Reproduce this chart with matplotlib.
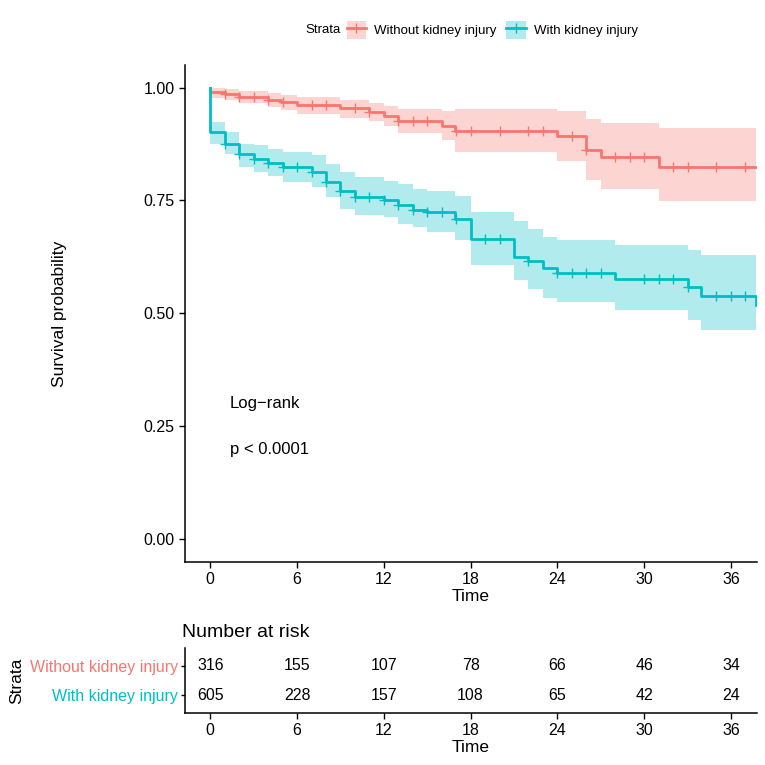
import numpy as np
import matplotlib.pyplot as plt
from matplotlib.patches import Patch
from matplotlib.lines import Line2D

plt.rcParams['font.family'] = ['Liberation Sans', 'DejaVu Sans']

# Kaplan-Meier steps (months, survival, 95% CI)
t_no = [0, 0, 1, 2, 4, 4.9, 6, 9, 11, 12, 13, 16, 16.9, 24, 26, 27, 31]
s_no = [1.0, .991, .985, .979, .972, .967, .961, .954, .946, .937, .926, .915, .904, .892, .862, .846, .825]
up_no = [1.0, 1.0, .997, .993, .988, .984, .979, .973, .966, .959, .952, .948, .952, .948, .931, .921, .910]
lo_no = [1.0, .977, .973, .965, .957, .950, .942, .933, .925, .915, .900, .885, .857, .837, .796, .776, .748]
cens_no = [1, 2, 3, 4, 5, 7, 8, 10, 11, 13, 14, 15, 17, 18, 20, 22, 23, 25, 26, 28, 29, 30, 32, 33, 35, 37]

t_aki = [0, 0, 1, 2, 3, 4, 5, 7, 8, 9, 10, 12, 13, 14, 15, 16.9, 18, 21, 22, 23, 24, 28, 33, 33.9, 37.7]
s_aki = [1.0, .901, .874, .853, .842, .833, .824, .814, .792, .771, .757, .750, .739, .728, .725, .709,
         .665, .626, .617, .601, .590, .577, .558, .539, .518]
up_aki = [1.0, .923, .901, .875, .872, .864, .857, .850, .831, .813, .802, .794, .787, .776, .772, .759,
          .724, .705, .688, .669, .662, .651, .640, .629, .629]
lo_aki = [1.0, .875, .853, .824, .813, .805, .791, .779, .757, .732, .717, .713, .698, .691, .680, .662,
          .608, .575, .554, .535, .525, .508, .485, .463, .463]
cens_aki = [1, 2, 3, 4, 5, 6, 7, 8, 9, 10, 11, 12, 13, 14, 15, 16, 17, 19, 20, 22, 24, 25, 26, 27,
            30, 31, 32, 33, 35, 36, 37]

t_end = 37.75
groups = ['Without kidney injury', 'With kidney injury']
colors = ['#F8766D', '#00BFC4']

risk_times = [0, 6, 12, 18, 24, 30, 36]
risk_no = [316, 155, 107, 78, 66, 46, 34]
risk_aki = [605, 228, 157, 108, 65, 42, 24]

fig = plt.figure(figsize=(7.65, 7.65), dpi=100)
ax = fig.add_axes([0.2418, 0.2654, 0.7477, 0.6497])

series = [(t_no, s_no, up_no, lo_no, cens_no), (t_aki, s_aki, up_aki, lo_aki, cens_aki)]
for (t, s, up, lo, cens), col, name in zip(series, colors, groups):
    tt = np.append(t, t_end)
    ss = np.append(s, s[-1])
    ax.fill_between(tt, np.append(lo, lo[-1]), np.append(up, up[-1]), step='post',
                    color=col, alpha=0.3, linewidth=0)
    ax.step(tt, ss, where='post', color=col, linewidth=2.0)
    idx = np.searchsorted(t, cens, side='right') - 1
    ax.plot(cens, np.array(s)[idx], linestyle='none', marker='+', markersize=7,
            markeredgewidth=1.0, color=col)

ax.set_xlim(-1.75, 37.8)
ax.set_ylim(-0.05, 1.05)
ax.set_xticks(risk_times)
ax.set_yticks([0, 0.25, 0.5, 0.75, 1.0])
ax.set_yticklabels(['0.00', '0.25', '0.50', '0.75', '1.00'])
for sp in ['top', 'right']:
    ax.spines[sp].set_visible(False)
for sp in ['left', 'bottom']:
    ax.spines[sp].set_linewidth(1.1)
ax.tick_params(labelsize=11.5, colors='black', length=4, width=1.0)
ax.set_xlabel('Time', fontsize=12.5, labelpad=1)
ax.set_ylabel('Survival probability', fontsize=12.5, labelpad=55)
ax.text(1.35, 0.30, 'Log\u2212rank', fontsize=12, va='center')
ax.text(1.35, 0.20, 'p < 0.0001', fontsize=12, va='center')

# legend on top, title inline on the left
handles = [(Patch(facecolor=c, alpha=0.3, edgecolor='none'),
            Line2D([], [], color=c, lw=2, marker='+', markersize=7, mew=1)) for c in colors]
fig.legend(handles, groups, loc='center left', bbox_to_anchor=(0.453, 0.961), ncol=2, frameon=False,
           fontsize=9.5, handlelength=1.5, handleheight=1.7, handletextpad=0.6, columnspacing=0.7,
           borderpad=0, borderaxespad=0)
fig.text(0.399, 0.961, 'Strata', fontsize=9.5, va='center', ha='left')

# number at risk table
tab = fig.add_axes([0.2418, 0.068, 0.7477, 0.085])
tab.set_xlim(-1.75, 37.8)
tab.set_ylim(2.6, 0.4)
for i, row in enumerate([risk_no, risk_aki]):
    for x, n in zip(risk_times, row):
        tab.text(x, i + 1, str(n), ha='center', va='center', fontsize=11.5)
tab.set_yticks([1, 2])
tab.set_yticklabels(groups, fontsize=11.5)
for lab, col in zip(tab.get_yticklabels(), colors):
    lab.set_color(col)
tab.set_xticks(risk_times)
for sp in ['top', 'right']:
    tab.spines[sp].set_visible(False)
for sp in ['left', 'bottom']:
    tab.spines[sp].set_linewidth(1.1)
tab.tick_params(labelsize=11.5, length=4, width=1.0)
tab.tick_params(axis='y', length=3, pad=2)
tab.set_xlabel('Time', fontsize=12.5, labelpad=1)
tab.set_ylabel('Strata', fontsize=12.5, labelpad=4)
tab.set_title('Number at risk', loc='left', fontsize=14, pad=8, x=-0.005)

fig.savefig('out.png', dpi=100)
